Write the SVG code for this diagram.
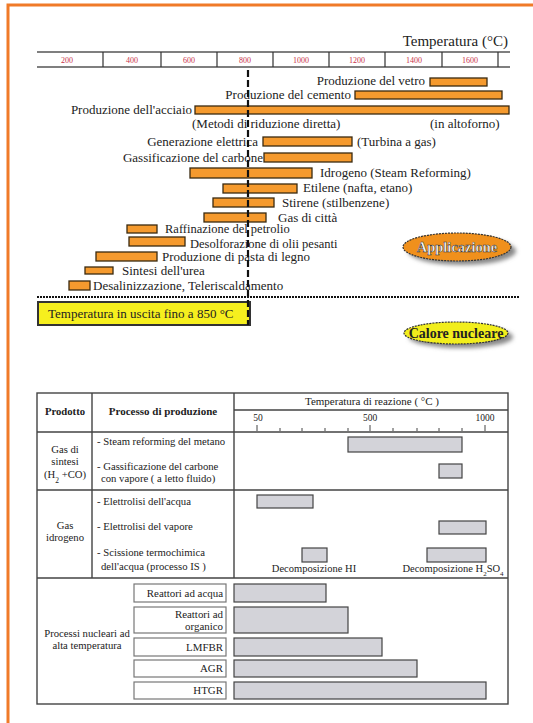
<svg xmlns="http://www.w3.org/2000/svg" width="533" height="723" viewBox="0 0 533 723">
<style>
text{font-family:"Liberation Serif","Times New Roman","DejaVu Serif",serif;fill:#222}
.lb{font-size:13px}
.ax{font-size:8px;fill:#c8304a;text-anchor:middle}
.bar{fill:#f59a2e;stroke:#3a2a10;stroke-width:1.3}
.gb{fill:#d3d3d9;stroke:#444;stroke-width:1.2}
.wb{fill:#fff;stroke:#777;stroke-width:1.2}
.t{font-size:10.7px}
.tc{font-size:10.7px;text-anchor:middle}
.tr{font-size:10.9px;text-anchor:end}
.ln{stroke:#444;stroke-width:1.4;fill:none}
</style>
<defs>
<filter id="sh" x="-20%" y="-30%" width="150%" height="180%"><feGaussianBlur stdDeviation="2"/></filter>
</defs>
<path d="M8 723V5H533" fill="none" stroke="#f07a28" stroke-width="3"/>

<g id="axis">
<text x="508" y="46" style="font-size:15px" text-anchor="end">Temperatura (°C)</text>
<path d="M37 52H510M37 67H510" stroke="#555" stroke-width="1.5"/>
<path d="M103 52V67M161 52V67M217 52V67M273 52V67M329 52V67M385 52V67M442 52V67M498 52V67" stroke="#333" stroke-width="1.2"/>
<text class="ax" x="67" y="63">200</text>
<text class="ax" x="132" y="63">400</text>
<text class="ax" x="189" y="63">600</text>
<text class="ax" x="245" y="63">800</text>
<text class="ax" x="301" y="63">1000</text>
<text class="ax" x="357" y="63">1200</text>
<text class="ax" x="414" y="63">1400</text>
<text class="ax" x="470" y="63">1600</text>
</g>

<g id="bars">
<rect class="bar" x="430" y="78" width="57" height="8"/>
<rect class="bar" x="355" y="91" width="147" height="8"/>
<rect class="bar" x="195" y="106" width="314" height="8"/>
<rect class="bar" x="263" y="137" width="89" height="9"/>
<rect class="bar" x="264" y="153" width="88" height="9"/>
<rect class="bar" x="190" y="168" width="122" height="10"/>
<rect class="bar" x="223" y="184" width="74" height="9"/>
<rect class="bar" x="213" y="198" width="61" height="9"/>
<rect class="bar" x="204" y="213" width="62" height="9"/>
<rect class="bar" x="127" y="225" width="30" height="8"/>
<rect class="bar" x="129" y="237" width="56" height="9"/>
<rect class="bar" x="96" y="252" width="61" height="9"/>
<rect class="bar" x="85" y="267" width="28" height="7"/>
<rect class="bar" x="69" y="281" width="21" height="9"/>
</g>

<g id="labels">
<text class="lb" x="425" y="85" text-anchor="end">Produzione del vetro</text>
<text class="lb" x="351" y="99" text-anchor="end">Produzione del cemento</text>
<text class="lb" x="192" y="114" text-anchor="end">Produzione dell'acciaio</text>
<text class="lb" x="192" y="128">(Metodi di riduzione diretta)</text>
<text class="lb" x="430" y="128">(in altoforno)</text>
<text class="lb" x="258" y="146" text-anchor="end">Generazione elettrica</text>
<text class="lb" x="357" y="146">(Turbina a gas)</text>
<text class="lb" x="263" y="162" text-anchor="end">Gassificazione del carbone</text>
<text class="lb" x="320" y="177">Idrogeno (Steam Reforming)</text>
<text class="lb" x="303" y="192">Etilene (nafta, etano)</text>
<text class="lb" x="282" y="207">Stirene (stilbenzene)</text>
<text class="lb" x="278" y="222">Gas di città</text>
<text class="lb" x="165" y="233" style="font-size:12.5px">Raffinazione del petrolio</text>
<text class="lb" x="190" y="247.5" style="font-size:12.5px">Desolforazione di olii pesanti</text>
<text class="lb" x="162" y="261">Produzione di pasta di legno</text>
<text class="lb" x="122" y="275">Sintesi dell'urea</text>
<text class="lb" x="93" y="290">Desalinizzazione, Teleriscaldamento</text>
</g>

<path d="M37 297H520" stroke="#111" stroke-width="2" stroke-dasharray="2 1"/>
<g id="limit">
<rect x="38" y="302" width="212" height="23" fill="#f6ef1e" stroke="#333" stroke-width="2"/>
<text x="48" y="318" style="font-size:13px">Temperatura in uscita fino a 850 °C</text>
</g>
<path d="M248 70V325" stroke="#111" stroke-width="2.2" stroke-dasharray="7 3"/>

<g id="applicazione">
<ellipse cx="462" cy="251" rx="54" ry="14" fill="#888" filter="url(#sh)"/>
<ellipse cx="457" cy="247" rx="54" ry="14" fill="#f0901c" stroke="#333" stroke-width="1.2" stroke-dasharray="2 1"/>
<text x="457" y="252" text-anchor="middle" style="font-size:14.5px;font-weight:bold;fill:#fff;stroke:#333;stroke-width:0.5">Applicazione</text>
</g>
<g id="calore">
<ellipse cx="461" cy="337" rx="52" ry="11" fill="#888" filter="url(#sh)"/>
<ellipse cx="456" cy="333" rx="52" ry="11" fill="#f2ee1c" stroke="#333" stroke-width="1.2" stroke-dasharray="2 1"/>
<text x="456" y="338" text-anchor="middle" style="font-size:14px;font-weight:bold;fill:#222">Calore nucleare</text>
</g>

<g id="table">
<rect class="ln" x="37" y="393" width="471" height="311"/>
<path class="ln" d="M92 393V578M234 393V578M37 432H508M234 410H508M37 490H508M37 578H508"/>
<path d="M257 425V431M280 428V431M302 428V431M325 428V431M348 428V431M370 425V431M393 428V431M417 428V431M439 428V431M462 428V431M485 425V431" stroke="#444" stroke-width="1"/>
<text class="tc" x="65" y="415" style="font-weight:bold">Prodotto</text>
<text class="tc" x="163" y="415" style="font-weight:bold;font-size:11px">Processo di produzione</text>
<text class="tc" x="372" y="405" style="font-size:11px">Temperatura di reazione ( °C )</text>
<text class="tc" x="258" y="421" style="font-size:9.5px">50</text>
<text class="tc" x="370" y="421" style="font-size:9.5px">500</text>
<text class="tc" x="485" y="421" style="font-size:9.5px">1000</text>

<text class="tc" x="65" y="453">Gas di</text>
<text class="tc" x="65" y="465">sintesi</text>
<text class="tc" x="65" y="478">(H<tspan baseline-shift="sub" style="font-size:7.5px">2</tspan> +CO)</text>
<text class="t" x="97" y="445">- Steam reforming del metano</text>
<text class="t" x="97" y="470">- Gassificazione del carbone</text>
<text class="t" x="101" y="482">con vapore ( a letto fluido)</text>
<rect class="gb" x="348" y="437" width="114" height="15"/>
<rect class="gb" x="439" y="464" width="23" height="14"/>

<text class="tc" x="65" y="529">Gas</text>
<text class="tc" x="65" y="541">idrogeno</text>
<text class="t" x="97" y="505">- Elettrolisi dell'acqua</text>
<text class="t" x="97" y="530">- Elettrolisi del vapore</text>
<text class="t" x="97" y="556">- Scissione termochimica</text>
<text class="t" x="101" y="570">dell'acqua  (processo IS )</text>
<rect class="gb" x="257" y="495" width="56" height="13"/>
<rect class="gb" x="439" y="521" width="47" height="13"/>
<rect class="gb" x="302" y="548" width="25" height="14"/>
<rect class="gb" x="427" y="548" width="59" height="14"/>
<text class="tc" x="314" y="572" style="font-size:10.5px">Decomposizione HI</text>
<text class="tc" x="453" y="572" style="font-size:10.5px">Decomposizione H<tspan baseline-shift="sub" style="font-size:7px">2</tspan>SO<tspan baseline-shift="sub" style="font-size:7px">4</tspan></text>

<text class="tc" x="87" y="637">Processi nucleari ad</text>
<text class="tc" x="87" y="649">alta temperatura</text>
<rect class="wb" x="134" y="584" width="92" height="18"/>
<rect class="wb" x="134" y="607" width="92" height="26"/>
<rect class="wb" x="134" y="638" width="92" height="18"/>
<rect class="wb" x="134" y="660" width="92" height="17"/>
<rect class="wb" x="134" y="682" width="92" height="17"/>
<text class="tr" x="223" y="597">Reattori ad acqua</text>
<text class="tr" x="223" y="618">Reattori ad</text>
<text class="tr" x="223" y="630">organico</text>
<text class="tr" x="223" y="651">LMFBR</text>
<text class="tr" x="223" y="672">AGR</text>
<text class="tr" x="223" y="694">HTGR</text>
<rect class="gb" x="234" y="584" width="92" height="18"/>
<rect class="gb" x="234" y="607" width="114" height="26"/>
<rect class="gb" x="234" y="638" width="148" height="18"/>
<rect class="gb" x="234" y="660" width="183" height="17"/>
<rect class="gb" x="234" y="682" width="252" height="17"/>
</g>
</svg>
